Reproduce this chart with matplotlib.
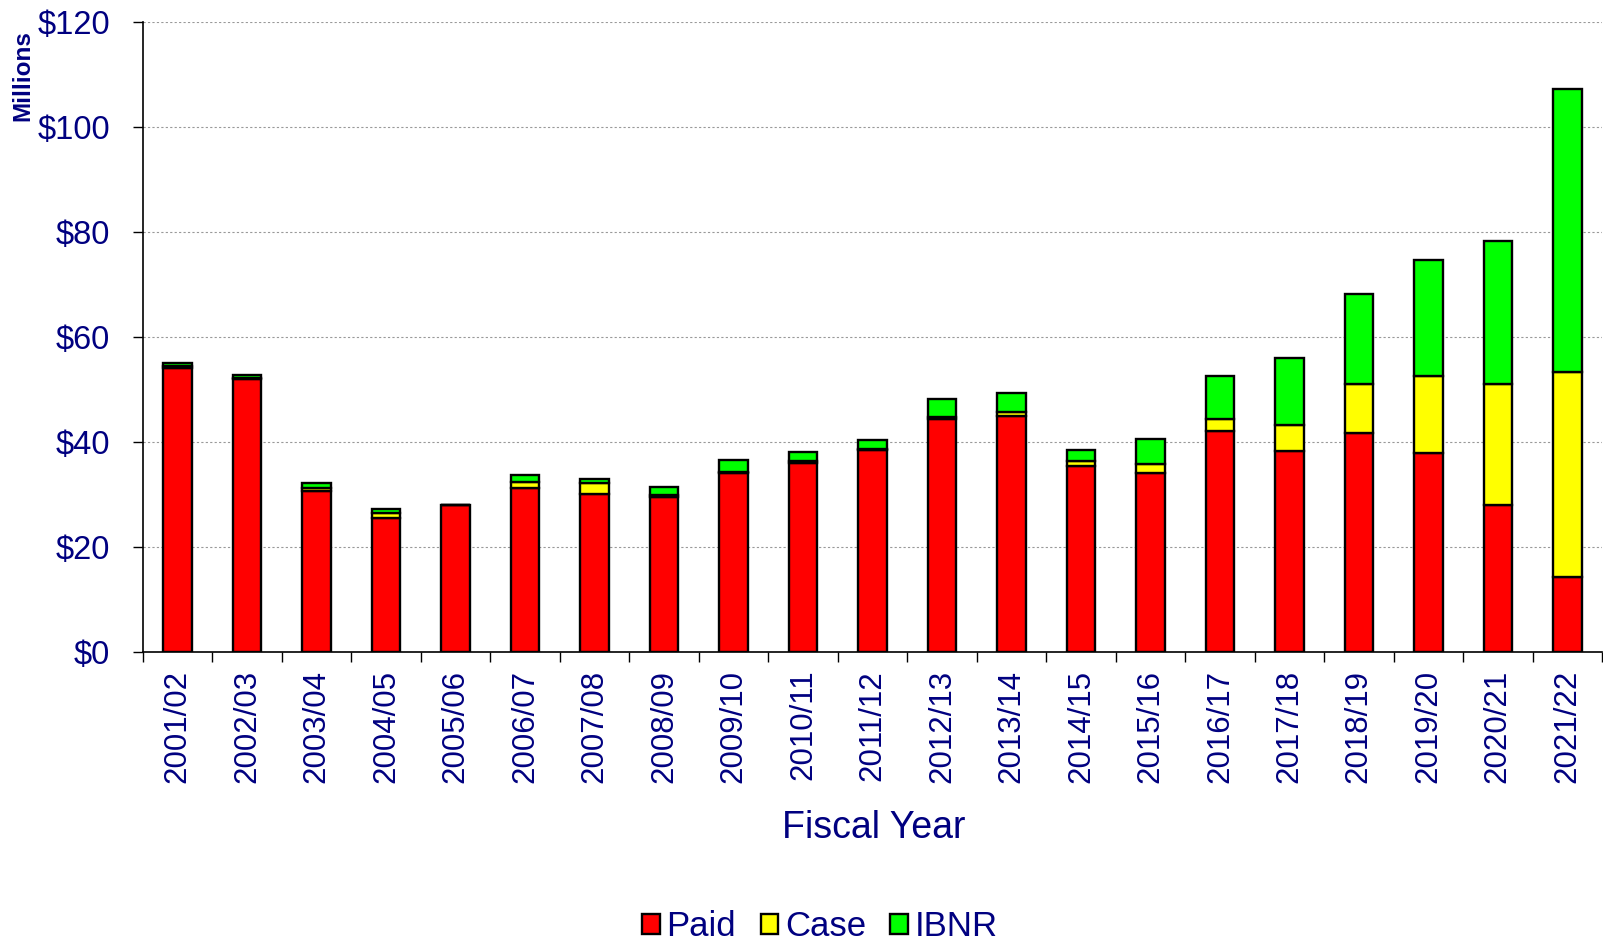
import matplotlib
matplotlib.use("Agg")
import matplotlib.pyplot as plt
from matplotlib.patches import Patch
import numpy as np

years = ["2001/02", "2002/03", "2003/04", "2004/05", "2005/06", "2006/07", "2007/08",
         "2008/09", "2009/10", "2010/11", "2011/12", "2012/13", "2013/14", "2014/15",
         "2015/16", "2016/17", "2017/18", "2018/19", "2019/20", "2020/21", "2021/22"]
paid = [54.0, 51.9, 30.7, 25.4, 27.9, 31.2, 30.1, 29.5, 34.0, 36.0, 38.4, 44.3, 44.9,
        35.4, 34.0, 42.0, 38.2, 41.7, 37.8, 27.9, 14.3]
case = [0.4, 0.3, 0.5, 1.0, 0.05, 1.2, 2.0, 0.4, 0.3, 0.4, 0.3, 0.5, 0.8,
        0.9, 1.8, 2.3, 5.0, 9.2, 14.7, 23.0, 38.9]
ibnr = [0.5, 0.5, 0.9, 0.8, 0.05, 1.3, 0.8, 1.4, 2.2, 1.6, 1.6, 3.3, 3.5,
        2.2, 4.8, 8.3, 12.8, 17.2, 22.2, 27.3, 54.0]
yticks = [0, 20, 40, 60, 80, 100, 120]
ytick_labels = ["$0", "$20", "$40", "$60", "$80", "$100", "$120"]

plt.rcParams['font.family'] = ['Liberation Sans', 'DejaVu Sans']
navy = "#000080"

W, H = 1603, 942
fig = plt.figure(figsize=(W / 100, H / 100), dpi=100)
left, right, top, bottom = 143, 1602, 21.7, 651.7
ax = fig.add_axes([left / W, 1 - bottom / H, (right - left) / W, (bottom - top) / H])

x = np.arange(len(years))
p = np.array(paid)
c = np.array(case)
i = np.array(ibnr)
bw = 0.41
lw = 1.7
ax.bar(x, p, bw, color="#FF0000", edgecolor="black", linewidth=lw, zorder=3)
ax.bar(x, c, bw, bottom=p, color="#FFFF00", edgecolor="black", linewidth=lw, zorder=3)
ax.bar(x, i, bw, bottom=p + c, color="#00FF00", edgecolor="black", linewidth=lw, zorder=3)

ax.set_xlim(-0.5, len(years) - 0.5)
ax.set_ylim(0, 120)
ax.set_yticks(yticks)
ax.set_yticklabels(ytick_labels, color=navy, fontsize=23.5)
ax.tick_params(axis="y", direction="out", length=7.5, width=1, pad=16)

ax.set_xticks(x)
ax.set_xticklabels(years, rotation=90, color=navy, fontsize=22.5)
ax.tick_params(axis="x", which="major", length=0, pad=13)
ax.set_xticks(np.arange(len(years) + 1) - 0.5, minor=True)
ax.tick_params(axis="x", which="minor", direction="out", length=7.5, width=1)

ax.yaxis.grid(True, linestyle=(0, (2, 2)), color="#999999", linewidth=0.8, zorder=0)
ax.set_axisbelow(True)
for s in ["top", "right"]:
    ax.spines[s].set_visible(False)
ax.spines["left"].set_linewidth(1.2)
ax.spines["bottom"].set_linewidth(1.2)

fig.text(874 / W, 1 - 828 / H, "Fiscal Year", color=navy, fontsize=27, ha="center", va="center")
fig.text(23 / W, 1 - 76 / H, "Millions", color=navy, fontsize=17.5, fontweight="bold",
         rotation=90, ha="center", va="center")

handles = [Patch(facecolor="#FF0000", edgecolor="black", linewidth=1.7, label="Paid"),
           Patch(facecolor="#FFFF00", edgecolor="black", linewidth=1.7, label="Case"),
           Patch(facecolor="#00FF00", edgecolor="black", linewidth=1.7, label="IBNR")]
leg = fig.legend(handles=handles, loc="center", bbox_to_anchor=(820 / W, 1 - 927 / H), ncol=3,
                 frameon=False, fontsize=25, handlelength=0.5, handleheight=0.5,
                 handletextpad=0.2, columnspacing=0.7, borderpad=0)
for t in leg.get_texts():
    t.set_color(navy)

fig.savefig("out.png", dpi=100)
